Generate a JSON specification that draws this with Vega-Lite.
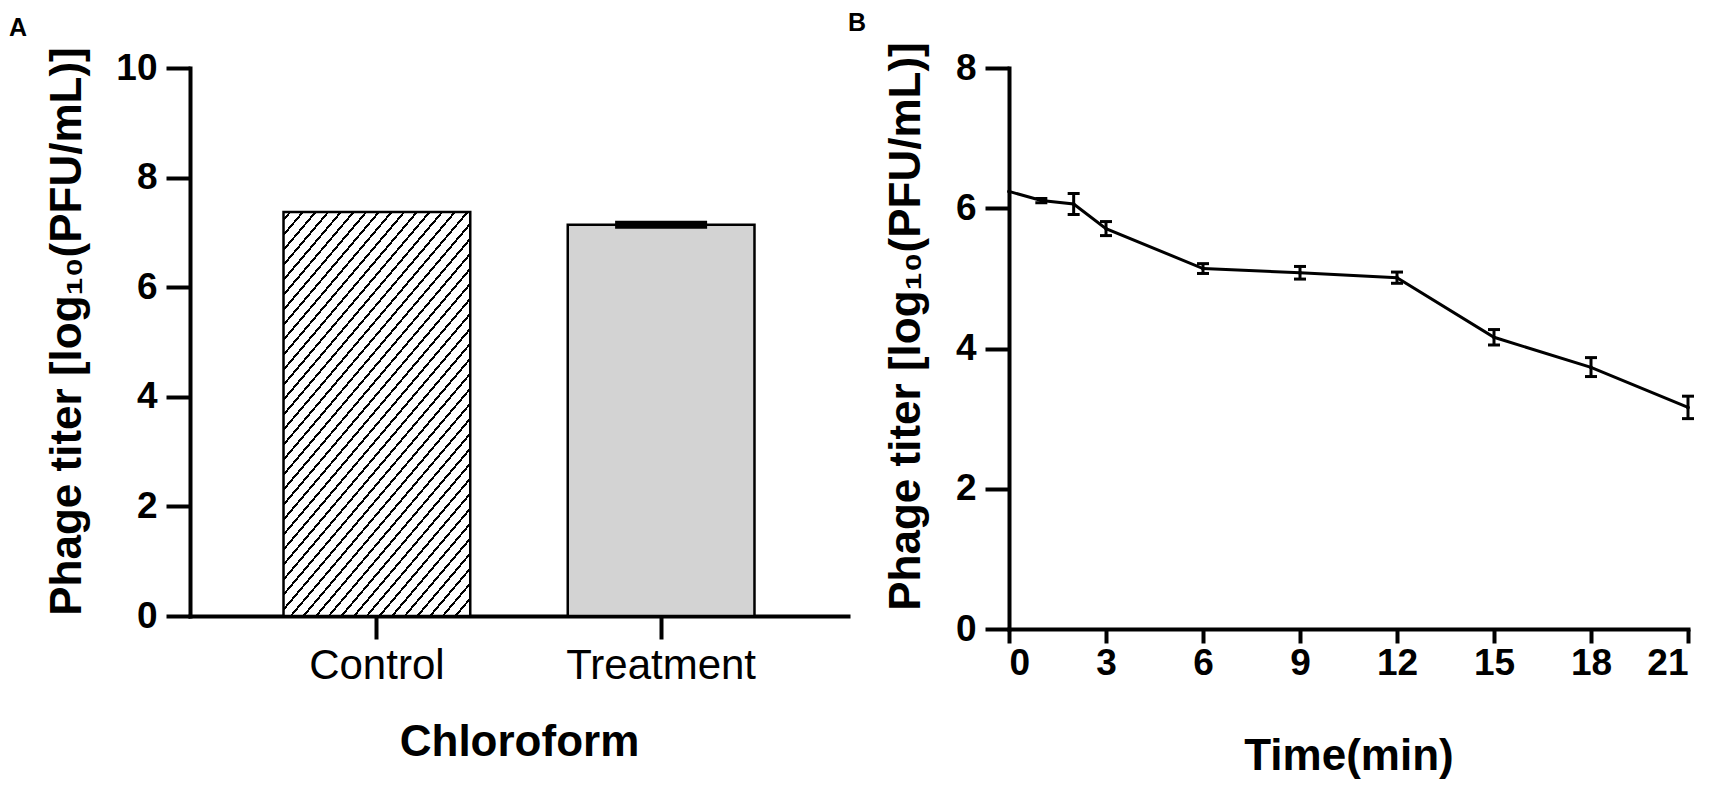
{
  "$schema": "https://vega.github.io/schema/vega-lite/v6.json",
  "background": "white",
  "padding": {"left": 9, "top": 10, "right": 0, "bottom": 5},
  "spacing": 0,
  "config": {
    "font": "Liberation Sans",
    "view": {"stroke": null},
    "axis": {
      "domainColor": "black", "domainWidth": 4, "domainCap": "square",
      "tickColor": "black", "tickWidth": 4, "tickSize": 24,
      "labelColor": "black", "labelFont": "Liberation Sans", "labelFontSize": 37, "labelFontWeight": "bold", "labelLimit": 400,
      "titleColor": "black", "titleFont": "Liberation Sans", "titleFontSize": 44, "titleFontWeight": "bold",
      "grid": false, "labelPadding": 9
    },
    "title": {"font": "Liberation Sans", "fontSize": 25, "fontWeight": "bold", "anchor": "start", "frame": "group", "color": "black", "baseline": "alphabetic", "offset": 6}
  },
  "hconcat": [
    {
      "title": {"text": "A", "dx": -181, "frame": "group"},
      "width": 658,
      "height": 548,
      "data": {"values": [
        {"group": "Control", "titer": 7.37},
        {"group": "Treatment", "titer": 7.14, "lo": 7.1, "hi": 7.18}
      ]},
      "layer": [
        {
          "transform": [{"filter": "datum.group === 'Control'"}],
          "mark": {"type": "bar", "stroke": "black", "strokeWidth": 2.5,
            "fill": {"gradient": "linear", "x1": 0, "y1": 0, "x2": 0.651, "y2": 1.19, "stops": [
              {"offset": 0, "color": "#ffffff"},
              {"offset": 0.01, "color": "#ffffff"}, {"offset": 0.01, "color": "#000000"}, {"offset": 0.015, "color": "#000000"}, {"offset": 0.015, "color": "#ffffff"},
              {"offset": 0.034, "color": "#ffffff"}, {"offset": 0.034, "color": "#000000"}, {"offset": 0.039, "color": "#000000"}, {"offset": 0.039, "color": "#ffffff"},
              {"offset": 0.058, "color": "#ffffff"}, {"offset": 0.058, "color": "#000000"}, {"offset": 0.063, "color": "#000000"}, {"offset": 0.063, "color": "#ffffff"},
              {"offset": 0.082, "color": "#ffffff"}, {"offset": 0.082, "color": "#000000"}, {"offset": 0.087, "color": "#000000"}, {"offset": 0.087, "color": "#ffffff"},
              {"offset": 0.106, "color": "#ffffff"}, {"offset": 0.106, "color": "#000000"}, {"offset": 0.111, "color": "#000000"}, {"offset": 0.111, "color": "#ffffff"},
              {"offset": 0.13, "color": "#ffffff"}, {"offset": 0.13, "color": "#000000"}, {"offset": 0.135, "color": "#000000"}, {"offset": 0.135, "color": "#ffffff"},
              {"offset": 0.154, "color": "#ffffff"}, {"offset": 0.154, "color": "#000000"}, {"offset": 0.159, "color": "#000000"}, {"offset": 0.159, "color": "#ffffff"},
              {"offset": 0.178, "color": "#ffffff"}, {"offset": 0.178, "color": "#000000"}, {"offset": 0.183, "color": "#000000"}, {"offset": 0.183, "color": "#ffffff"},
              {"offset": 0.202, "color": "#ffffff"}, {"offset": 0.202, "color": "#000000"}, {"offset": 0.207, "color": "#000000"}, {"offset": 0.207, "color": "#ffffff"},
              {"offset": 0.226, "color": "#ffffff"}, {"offset": 0.226, "color": "#000000"}, {"offset": 0.231, "color": "#000000"}, {"offset": 0.231, "color": "#ffffff"},
              {"offset": 0.25, "color": "#ffffff"}, {"offset": 0.25, "color": "#000000"}, {"offset": 0.255, "color": "#000000"}, {"offset": 0.255, "color": "#ffffff"},
              {"offset": 0.274, "color": "#ffffff"}, {"offset": 0.274, "color": "#000000"}, {"offset": 0.279, "color": "#000000"}, {"offset": 0.279, "color": "#ffffff"},
              {"offset": 0.298, "color": "#ffffff"}, {"offset": 0.298, "color": "#000000"}, {"offset": 0.303, "color": "#000000"}, {"offset": 0.303, "color": "#ffffff"},
              {"offset": 0.322, "color": "#ffffff"}, {"offset": 0.322, "color": "#000000"}, {"offset": 0.327, "color": "#000000"}, {"offset": 0.327, "color": "#ffffff"},
              {"offset": 0.346, "color": "#ffffff"}, {"offset": 0.346, "color": "#000000"}, {"offset": 0.351, "color": "#000000"}, {"offset": 0.351, "color": "#ffffff"},
              {"offset": 0.37, "color": "#ffffff"}, {"offset": 0.37, "color": "#000000"}, {"offset": 0.375, "color": "#000000"}, {"offset": 0.375, "color": "#ffffff"},
              {"offset": 0.394, "color": "#ffffff"}, {"offset": 0.394, "color": "#000000"}, {"offset": 0.399, "color": "#000000"}, {"offset": 0.399, "color": "#ffffff"},
              {"offset": 0.418, "color": "#ffffff"}, {"offset": 0.418, "color": "#000000"}, {"offset": 0.423, "color": "#000000"}, {"offset": 0.423, "color": "#ffffff"},
              {"offset": 0.442, "color": "#ffffff"}, {"offset": 0.442, "color": "#000000"}, {"offset": 0.447, "color": "#000000"}, {"offset": 0.447, "color": "#ffffff"},
              {"offset": 0.466, "color": "#ffffff"}, {"offset": 0.466, "color": "#000000"}, {"offset": 0.471, "color": "#000000"}, {"offset": 0.471, "color": "#ffffff"},
              {"offset": 0.49, "color": "#ffffff"}, {"offset": 0.49, "color": "#000000"}, {"offset": 0.495, "color": "#000000"}, {"offset": 0.495, "color": "#ffffff"},
              {"offset": 0.514, "color": "#ffffff"}, {"offset": 0.514, "color": "#000000"}, {"offset": 0.519, "color": "#000000"}, {"offset": 0.519, "color": "#ffffff"},
              {"offset": 0.538, "color": "#ffffff"}, {"offset": 0.538, "color": "#000000"}, {"offset": 0.543, "color": "#000000"}, {"offset": 0.543, "color": "#ffffff"},
              {"offset": 0.562, "color": "#ffffff"}, {"offset": 0.562, "color": "#000000"}, {"offset": 0.567, "color": "#000000"}, {"offset": 0.567, "color": "#ffffff"},
              {"offset": 0.586, "color": "#ffffff"}, {"offset": 0.586, "color": "#000000"}, {"offset": 0.591, "color": "#000000"}, {"offset": 0.591, "color": "#ffffff"},
              {"offset": 0.61, "color": "#ffffff"}, {"offset": 0.61, "color": "#000000"}, {"offset": 0.615, "color": "#000000"}, {"offset": 0.615, "color": "#ffffff"},
              {"offset": 0.634, "color": "#ffffff"}, {"offset": 0.634, "color": "#000000"}, {"offset": 0.639, "color": "#000000"}, {"offset": 0.639, "color": "#ffffff"},
              {"offset": 0.658, "color": "#ffffff"}, {"offset": 0.658, "color": "#000000"}, {"offset": 0.663, "color": "#000000"}, {"offset": 0.663, "color": "#ffffff"},
              {"offset": 0.682, "color": "#ffffff"}, {"offset": 0.682, "color": "#000000"}, {"offset": 0.687, "color": "#000000"}, {"offset": 0.687, "color": "#ffffff"},
              {"offset": 0.706, "color": "#ffffff"}, {"offset": 0.706, "color": "#000000"}, {"offset": 0.711, "color": "#000000"}, {"offset": 0.711, "color": "#ffffff"},
              {"offset": 0.73, "color": "#ffffff"}, {"offset": 0.73, "color": "#000000"}, {"offset": 0.735, "color": "#000000"}, {"offset": 0.735, "color": "#ffffff"},
              {"offset": 0.754, "color": "#ffffff"}, {"offset": 0.754, "color": "#000000"}, {"offset": 0.759, "color": "#000000"}, {"offset": 0.759, "color": "#ffffff"},
              {"offset": 0.778, "color": "#ffffff"}, {"offset": 0.778, "color": "#000000"}, {"offset": 0.783, "color": "#000000"}, {"offset": 0.783, "color": "#ffffff"},
              {"offset": 0.802, "color": "#ffffff"}, {"offset": 0.802, "color": "#000000"}, {"offset": 0.807, "color": "#000000"}, {"offset": 0.807, "color": "#ffffff"},
              {"offset": 0.826, "color": "#ffffff"}, {"offset": 0.826, "color": "#000000"}, {"offset": 0.831, "color": "#000000"}, {"offset": 0.831, "color": "#ffffff"},
              {"offset": 0.85, "color": "#ffffff"}, {"offset": 0.85, "color": "#000000"}, {"offset": 0.855, "color": "#000000"}, {"offset": 0.855, "color": "#ffffff"},
              {"offset": 0.874, "color": "#ffffff"}, {"offset": 0.874, "color": "#000000"}, {"offset": 0.879, "color": "#000000"}, {"offset": 0.879, "color": "#ffffff"},
              {"offset": 0.898, "color": "#ffffff"}, {"offset": 0.898, "color": "#000000"}, {"offset": 0.903, "color": "#000000"}, {"offset": 0.903, "color": "#ffffff"},
              {"offset": 0.922, "color": "#ffffff"}, {"offset": 0.922, "color": "#000000"}, {"offset": 0.927, "color": "#000000"}, {"offset": 0.927, "color": "#ffffff"},
              {"offset": 0.946, "color": "#ffffff"}, {"offset": 0.946, "color": "#000000"}, {"offset": 0.951, "color": "#000000"}, {"offset": 0.951, "color": "#ffffff"},
              {"offset": 0.97, "color": "#ffffff"}, {"offset": 0.97, "color": "#000000"}, {"offset": 0.975, "color": "#000000"}, {"offset": 0.975, "color": "#ffffff"},
              {"offset": 1, "color": "#ffffff"}
            ]}
          },
          "encoding": {
            "x": {"field": "group", "type": "nominal",
              "scale": {"type": "band", "domain": ["Control", "Treatment"], "paddingInner": 0.343, "paddingOuter": 0.329},
              "axis": {"title": "Chloroform", "labelAngle": 0, "labelFontWeight": "normal", "labelFontSize": 42, "tickSize": 23, "labelPadding": 6, "titlePadding": 34}},
            "y": {"field": "titer", "type": "quantitative",
              "scale": {"domain": [0, 10], "nice": false},
              "axis": {"values": [0, 2, 4, 6, 8, 10], "format": "d", "title": "Phage titer [log₁₀(PFU/mL)]", "titlePadding": 26, "titleY": 263}}
          }
        },
        {
          "transform": [{"filter": "datum.group === 'Treatment'"}],
          "mark": {"type": "bar", "fill": "#d3d3d3", "stroke": "black", "strokeWidth": 2.5},
          "encoding": {
            "x": {"field": "group", "type": "nominal"},
            "y": {"field": "titer", "type": "quantitative"}
          }
        },
        {
          "transform": [{"filter": "isValid(datum.lo)"}],
          "mark": {"type": "rule", "stroke": "black", "strokeWidth": 2.5},
          "encoding": {
            "x": {"field": "group", "type": "nominal"},
            "y": {"field": "lo", "type": "quantitative"},
            "y2": {"field": "hi"}
          }
        },
        {
          "transform": [{"filter": "isValid(datum.lo)"}],
          "mark": {"type": "tick", "color": "black", "size": 92, "thickness": 3.5, "opacity": 1},
          "encoding": {
            "x": {"field": "group", "type": "nominal"},
            "y": {"field": "lo", "type": "quantitative"}
          }
        },
        {
          "transform": [{"filter": "isValid(datum.hi)"}],
          "mark": {"type": "tick", "color": "black", "size": 92, "thickness": 3.5, "opacity": 1},
          "encoding": {
            "x": {"field": "group", "type": "nominal"},
            "y": {"field": "hi", "type": "quantitative"}
          }
        }
      ]
    },
    {
      "title": {"text": "B", "dx": -161, "frame": "group"},
      "width": 679,
      "height": 561,
      "data": {"values": [
        {"time": 0, "titer": 6.24},
        {"time": 1, "titer": 6.11, "lo": 6.08, "hi": 6.14},
        {"time": 2, "titer": 6.06, "lo": 5.91, "hi": 6.21},
        {"time": 3, "titer": 5.71, "lo": 5.61, "hi": 5.81},
        {"time": 6, "titer": 5.14, "lo": 5.07, "hi": 5.21},
        {"time": 9, "titer": 5.08, "lo": 4.99, "hi": 5.17},
        {"time": 12, "titer": 5.01, "lo": 4.93, "hi": 5.09},
        {"time": 15, "titer": 4.16, "lo": 4.05, "hi": 4.27},
        {"time": 18, "titer": 3.73, "lo": 3.6, "hi": 3.87},
        {"time": 21, "titer": 3.16, "lo": 3.0, "hi": 3.32}
      ]},
      "layer": [
        {
          "mark": {"type": "line", "stroke": "black", "strokeWidth": 3},
          "encoding": {
            "x": {"field": "time", "type": "quantitative",
              "scale": {"domain": [0, 21], "nice": false, "zero": false},
              "axis": {"values": [0, 3, 6, 9, 12, 15, 18, 21], "format": "d", "title": "Time(min)", "tickSize": 14, "labelPadding": 2, "titlePadding": 53}},
            "y": {"field": "titer", "type": "quantitative",
              "scale": {"domain": [0, 8], "nice": false},
              "axis": {"values": [0, 2, 4, 6, 8], "format": "d", "title": "Phage titer [log₁₀(PFU/mL)]", "titlePadding": 27, "titleY": 258}}
          }
        },
        {
          "transform": [{"filter": "isValid(datum.lo)"}],
          "mark": {"type": "rule", "stroke": "black", "strokeWidth": 3},
          "encoding": {
            "x": {"field": "time", "type": "quantitative"},
            "y": {"field": "lo", "type": "quantitative"},
            "y2": {"field": "hi"}
          }
        },
        {
          "transform": [{"filter": "isValid(datum.lo)"}],
          "mark": {"type": "tick", "orient": "horizontal", "color": "black", "size": 12, "thickness": 3, "opacity": 1},
          "encoding": {
            "x": {"field": "time", "type": "quantitative"},
            "y": {"field": "lo", "type": "quantitative"}
          }
        },
        {
          "transform": [{"filter": "isValid(datum.hi)"}],
          "mark": {"type": "tick", "orient": "horizontal", "color": "black", "size": 12, "thickness": 3, "opacity": 1},
          "encoding": {
            "x": {"field": "time", "type": "quantitative"},
            "y": {"field": "hi", "type": "quantitative"}
          }
        },
        {
          "mark": {"type": "point", "filled": true, "color": "black", "size": 14, "opacity": 1},
          "encoding": {
            "x": {"field": "time", "type": "quantitative"},
            "y": {"field": "titer", "type": "quantitative"}
          }
        }
      ]
    }
  ]
}
